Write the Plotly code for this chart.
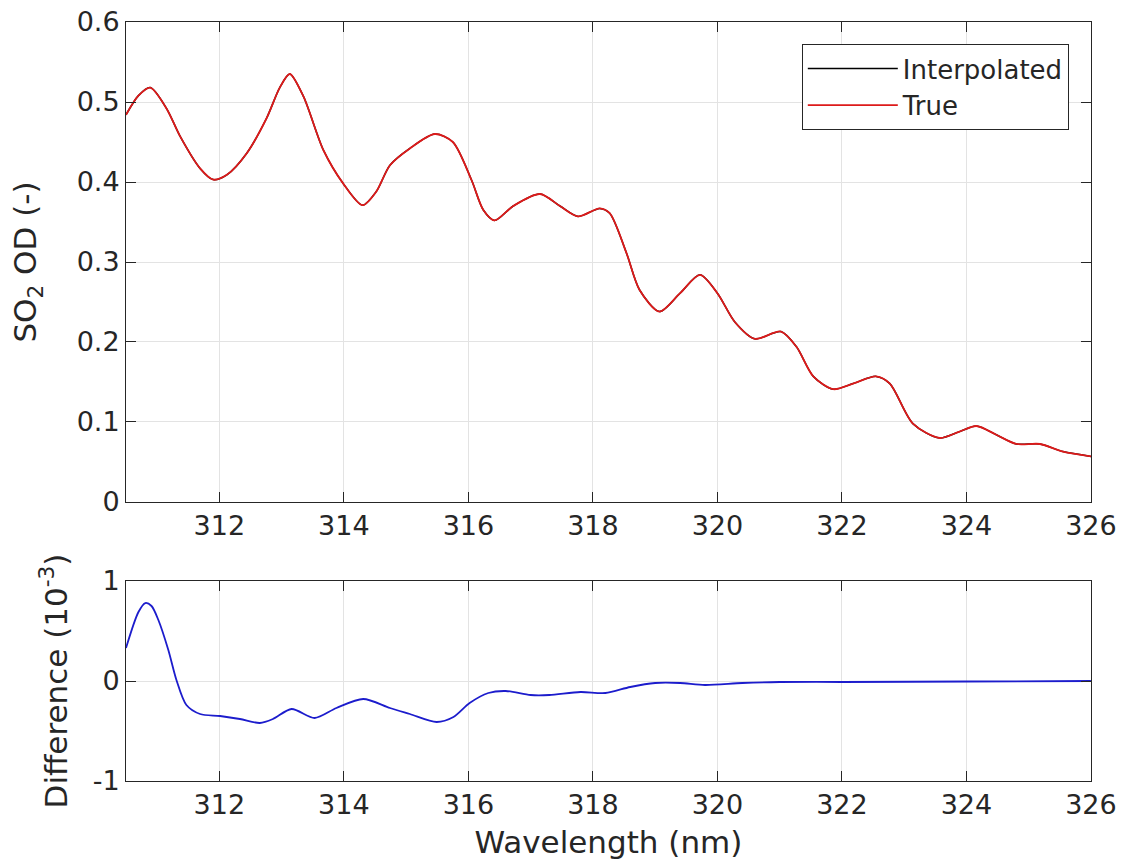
import plotly.graph_objects as go
from plotly.subplots import make_subplots

# ---- data ----
true_wl = [310.50, 310.70, 310.89, 311.15, 311.37, 311.69, 311.90, 312.12, 312.44, 312.76,
           312.97, 313.13, 313.35, 313.67, 313.99, 314.30, 314.52, 314.74, 315.06, 315.46,
           315.75, 316.05, 316.24, 316.42, 316.72, 317.15, 317.47, 317.76, 318.11, 318.27,
           318.54, 318.75, 319.07, 319.40, 319.72, 320.00, 320.28, 320.60, 321.02, 321.27,
           321.54, 321.86, 322.18, 322.55, 322.77, 323.14, 323.57, 323.89, 324.16, 324.48,
           324.80, 325.18, 325.55, 326.00]
true_od = [0.484, 0.508, 0.518, 0.492, 0.457, 0.417, 0.403, 0.409, 0.436, 0.480,
           0.518, 0.535, 0.507, 0.440, 0.398, 0.371, 0.388, 0.421, 0.442, 0.460,
           0.450, 0.4025, 0.365, 0.352, 0.370, 0.385, 0.370, 0.357, 0.367, 0.361,
           0.311, 0.265, 0.238, 0.261, 0.284, 0.261, 0.225, 0.204, 0.213, 0.194,
           0.157, 0.141, 0.148, 0.157, 0.148, 0.098, 0.080, 0.088, 0.095, 0.084,
           0.0725, 0.0725, 0.063, 0.057]
interp_od = list(true_od)  # visually identical to the true curve

diff_wl = [310.50, 310.70, 310.81, 310.91, 311.02, 311.18, 311.31, 311.47, 311.69, 312.01,
           312.33, 312.65, 312.86, 313.16, 313.53, 313.88, 314.31, 314.74, 315.06, 315.49,
           315.76, 316.02, 316.32, 316.60, 317.00, 317.30, 317.80, 318.20, 318.60, 319.00,
           319.40, 319.80, 320.40, 321.00, 322.00, 324.00, 326.00]
diff_val = [0.33, 0.69, 0.78, 0.75, 0.61, 0.31, 0.01, -0.24, -0.33, -0.35,
            -0.38, -0.42, -0.38, -0.28, -0.37, -0.27, -0.18, -0.27, -0.33, -0.41,
            -0.36, -0.22, -0.12, -0.10, -0.14, -0.14, -0.11, -0.12, -0.06, -0.02,
            -0.02, -0.04, -0.02, -0.01, -0.01, -0.005, 0.0]

x_ticks = [312, 314, 316, 318, 320, 322, 324, 326]
od_ticks = [0, 0.1, 0.2, 0.3, 0.4, 0.5, 0.6]
od_ticktext = ["0", "0.1", "0.2", "0.3", "0.4", "0.5", "0.6"]
diff_ticks = [-1, 0, 1]
diff_ticktext = ["-1", "0", "1"]

# ---- figure ----
W, H = 1123, 867
TXT = "#262626"
GRID = "#e3e3e3"
FONT = "DejaVu Sans"
TICK_SIZE = 27
TITLE_SIZE = 31

fig = make_subplots(rows=2, cols=1, shared_xaxes=False, vertical_spacing=0.05)

fig.add_trace(go.Scatter(x=true_wl, y=interp_od, mode="lines", name="Interpolated",
                         line=dict(color="#000000", width=1.5, shape="spline", smoothing=0.8)),
              row=1, col=1)
fig.add_trace(go.Scatter(x=true_wl, y=true_od, mode="lines", name="True",
                         line=dict(color="#dd1a1a", width=1.8, shape="spline", smoothing=0.8)),
              row=1, col=1)
fig.add_trace(go.Scatter(x=diff_wl, y=diff_val, mode="lines", showlegend=False,
                         line=dict(color="#1c1ccc", width=1.8, shape="spline", smoothing=0.8)),
              row=2, col=1)

axis_common = dict(showline=True, linecolor=TXT, linewidth=1, mirror="ticks",
                   ticks="inside", ticklen=10, tickcolor=TXT, tickwidth=1,
                   showgrid=True, gridcolor=GRID, gridwidth=1, zeroline=False,
                   automargin=False, ticklabeloverflow="allow",
                   tickfont=dict(family=FONT, size=TICK_SIZE, color=TXT))

fig.update_xaxes(range=[310.5, 326.001], tickvals=x_ticks, **axis_common)
fig.update_yaxes(**axis_common)

fig.update_layout(
    width=W, height=H,
    margin=dict(l=126, r=32, t=22, b=86),
    plot_bgcolor="white", paper_bgcolor="white",
    font=dict(family=FONT, color=TXT),
    xaxis=dict(domain=[0, 1]),
    yaxis=dict(domain=[0.3676, 1.0], range=[0, 0.6], tickvals=od_ticks, ticktext=od_ticktext,
               title=dict(text="SO<sub>2</sub> OD (-)", font=dict(family=FONT, size=TITLE_SIZE, color=TXT),
                          standoff=30)),
    xaxis2=dict(domain=[0, 1],
                title=dict(text="Wavelength (nm)", font=dict(family=FONT, size=TITLE_SIZE, color=TXT),
                           standoff=11)),
    yaxis2=dict(domain=[0, 0.2635], range=[-1, 1], tickvals=diff_ticks, ticktext=diff_ticktext,
                title=dict(text="Difference (10<sup>-3</sup>)", font=dict(family=FONT, size=TITLE_SIZE, color=TXT),
                           standoff=15)),
    legend=dict(x=0.977, y=0.971, xanchor="right", yanchor="top",
                bgcolor="white", bordercolor=TXT, borderwidth=1, itemwidth=90,
                font=dict(family=FONT, size=26, color=TXT), tracegroupgap=0),
)

fig.write_html("out.html",
               config={"displayModeBar": False},
               post_script="document.body.style.margin='0';document.body.style.overflow='hidden';")
